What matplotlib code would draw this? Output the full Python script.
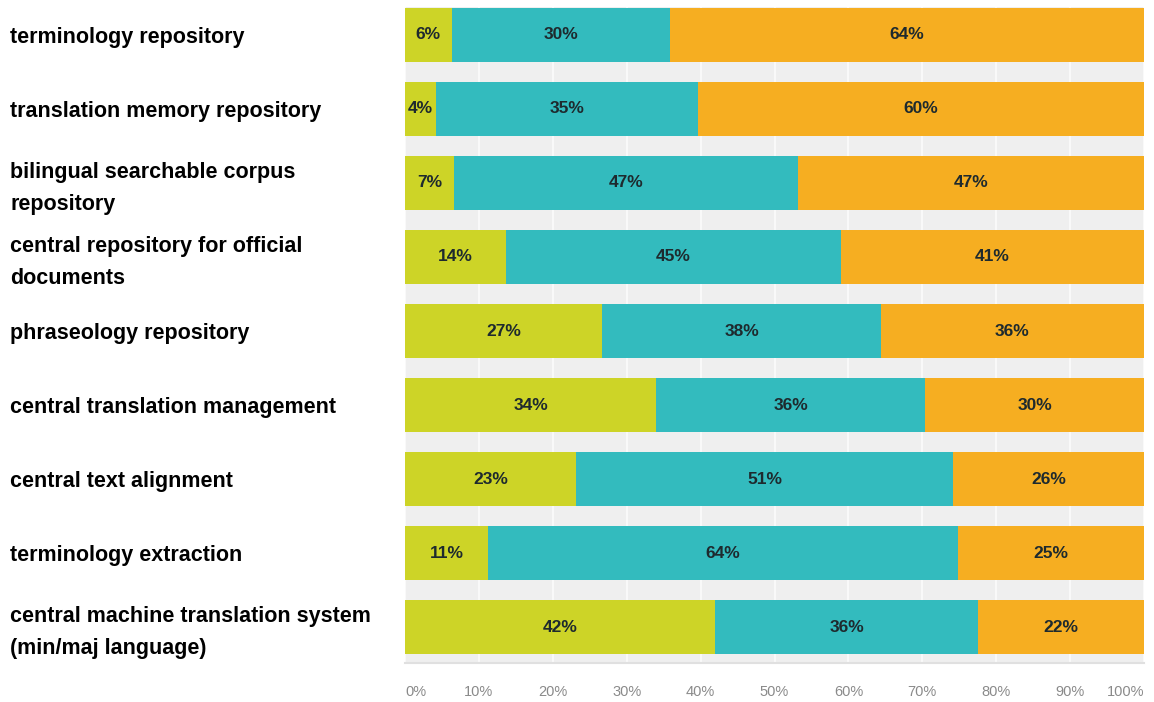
import matplotlib
matplotlib.use("Agg")
import matplotlib.pyplot as plt
from matplotlib import transforms

categories = [
    "terminology repository",
    "translation memory repository",
    "bilingual searchable corpus\nrepository",
    "central repository for official\ndocuments",
    "phraseology repository",
    "central translation management",
    "central text alignment",
    "terminology extraction",
    "central machine translation system\n(min/maj language)",
]
green_vals = [6.3, 4.2, 6.6, 13.6, 26.7, 34.0, 23.2, 11.2, 42.0]
teal_vals = [29.6, 35.4, 46.6, 45.4, 37.7, 36.4, 51.0, 63.6, 35.6]
orange_vals = [64.1, 60.4, 46.8, 41.0, 35.6, 29.6, 25.8, 25.2, 22.4]
x_ticks = [0, 10, 20, 30, 40, 50, 60, 70, 80, 90, 100]
x_tick_labels = ["0%", "10%", "20%", "30%", "40%", "50%", "60%", "70%", "80%", "90%", "100%"]

colors = ["#CDD427", "#33BBBE", "#F6AE21"]

fig = plt.figure(figsize=(11.54, 7.02), dpi=100)
ax = fig.add_axes([405 / 1154, 1 - 663 / 702, (1144 - 405) / 1154, (663 - 7) / 702])
ax.set_facecolor("#EFEFEF")

ys = list(range(len(categories)))
left = [0.0] * len(categories)
for vals, col in zip([green_vals, teal_vals, orange_vals], colors):
    ax.barh(ys, vals, left=left, height=0.73, color=col, zorder=3)
    for y, v, l in zip(ys, vals, left):
        ax.text(l + v / 2, y, f"{round(v)}%", ha="center", va="center",
                fontsize=12.5, fontweight="bold", color="#1E2A2E",
                family=["Liberation Sans", "DejaVu Sans"], zorder=4)
    left = [a + b for a, b in zip(left, vals)]

ax.set_xlim(0, 100)
ax.set_ylim(8.486, -0.378)
ax.set_xticks(x_ticks)
ax.set_xticklabels(x_tick_labels, color="#8A8A8A", fontsize=10.5,
                   family=["Liberation Sans", "DejaVu Sans"])
tl = ax.get_xticklabels()
tl[0].set_ha("left")
tl[-1].set_ha("right")
ax.tick_params(axis="x", length=0, pad=16)
ax.set_yticks([])
ax.grid(axis="x", color="#F9F9F9", linewidth=1.5, zorder=1)
ax.set_axisbelow(True)
for s in ["top", "left", "right"]:
    ax.spines[s].set_visible(False)
ax.spines["bottom"].set_color("#E0E0E0")
ax.spines["bottom"].set_linewidth(1.5)

trans = transforms.blended_transform_factory(fig.transFigure, ax.transData)
for y, cat in zip(ys, categories):
    if "\n" in cat:
        tr = transforms.offset_copy(trans, fig=fig, y=-4, units="points")
    else:
        tr = transforms.offset_copy(trans, fig=fig, y=-2, units="points")
    ax.text(10 / 1154, y, cat, transform=tr, ha="left", va="center",
            fontsize=15.5, fontweight="bold", color="black", linespacing=1.65,
            family=["Liberation Sans", "DejaVu Sans"])

fig.savefig("out.png", dpi=100)
